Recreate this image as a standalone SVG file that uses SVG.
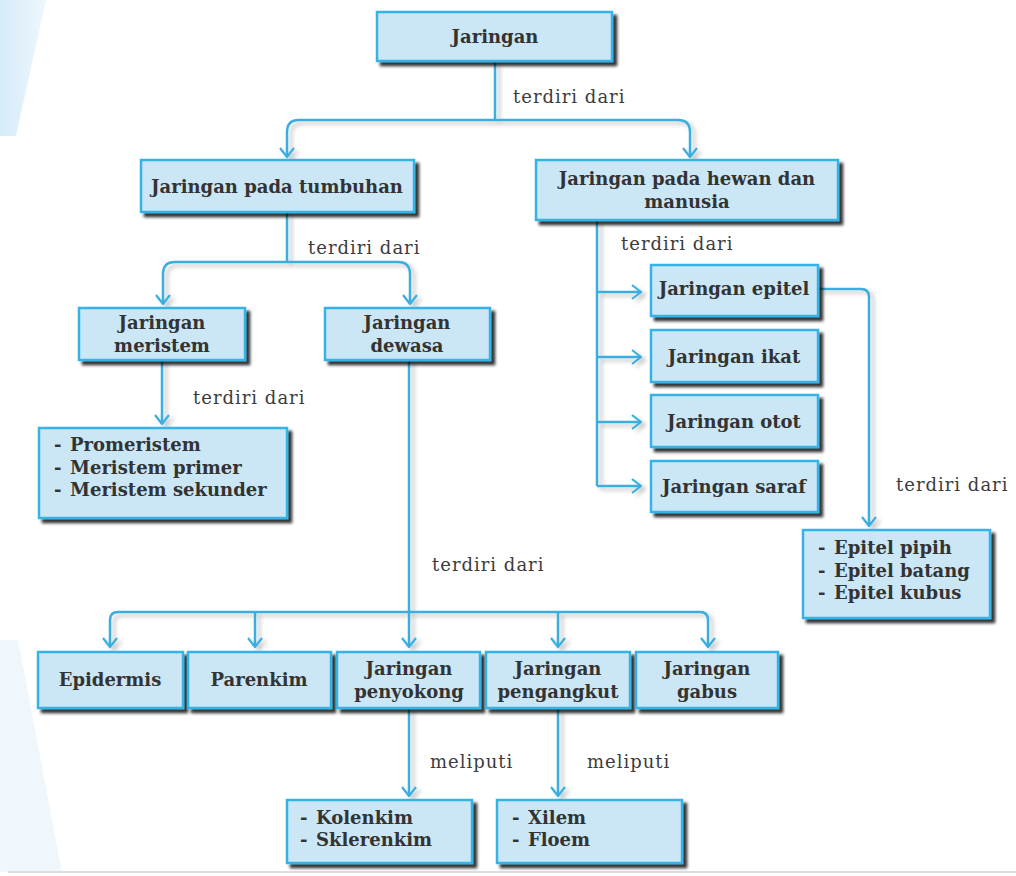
<svg xmlns="http://www.w3.org/2000/svg" width="1016" height="876" viewBox="0 0 1016 876">
<defs>
<linearGradient id="stripe" x1="0" y1="0" x2="1" y2="0">
<stop offset="0" stop-color="#d6ebf8"/>
<stop offset="1" stop-color="#eef7fd"/>
</linearGradient>
<filter id="sh" x="-10%" y="-10%" width="130%" height="140%">
<feGaussianBlur in="SourceAlpha" stdDeviation="1.5"/>
<feOffset dx="4" dy="4" result="b"/>
<feComponentTransfer><feFuncA type="linear" slope="0.8"/></feComponentTransfer>
<feMerge><feMergeNode/><feMergeNode in="SourceGraphic"/></feMerge>
</filter>
<filter id="lsh" x="-20%" y="-20%" width="140%" height="140%">
<feGaussianBlur in="SourceAlpha" stdDeviation="2"/>
<feOffset dx="4" dy="3"/>
<feComponentTransfer><feFuncA type="linear" slope="0.25"/></feComponentTransfer>
<feMerge><feMergeNode/><feMergeNode in="SourceGraphic"/></feMerge>
</filter>
<marker id="ah" viewBox="0 0 12 16" refX="11" refY="8" markerWidth="12" markerHeight="16" markerUnits="userSpaceOnUse" orient="auto">
<path d="M2,1 L11,8 L2,15" fill="none" stroke="#3aaee0" stroke-width="2.2"/>
</marker>
</defs>
<style>
.box{fill:#cbe7f6;stroke:#36b2e6;stroke-width:2.5;filter:url(#sh)}
.t{font-family:"DejaVu Serif","Liberation Serif",serif;font-weight:bold;font-size:18px;fill:#333333}
.c{text-anchor:middle}
.lbl{font-family:"DejaVu Serif","Liberation Serif",serif;font-size:18px;letter-spacing:1px;fill:#3c3c3c}
.cn{fill:none;stroke:#3aaee0;stroke-width:2.5}
</style>
<rect width="1016" height="876" fill="#ffffff"/>
<polygon points="0,0 46,0 16,136 0,136" fill="url(#stripe)"/>
<polygon points="0,640 18,640 62,872 0,872" fill="#f0f7fc"/>
<line x1="8" y1="872" x2="1016" y2="872" stroke="#dddddd" stroke-width="2"/>

<g id="connectors" filter="url(#lsh)">
<path class="cn" d="M495,62 V120"/>
<path class="cn" d="M495,120 H299 Q287,120 287,132 V157" marker-end="url(#ah)"/>
<path class="cn" d="M495,120 H678 Q690,120 690,132 V157" marker-end="url(#ah)"/>
<path class="cn" d="M287,213 V262"/>
<path class="cn" d="M287,262 H175 Q163,262 163,274 V304" marker-end="url(#ah)"/>
<path class="cn" d="M287,262 H398 Q410,262 410,274 V304" marker-end="url(#ah)"/>
<path class="cn" d="M162,360 V424" marker-end="url(#ah)"/>
<path class="cn" d="M409,360 V647" marker-end="url(#ah)"/>
<path class="cn" d="M409,612 H118 Q110,612 110,620 V647" marker-end="url(#ah)"/>
<path class="cn" d="M409,612 H700 Q708,612 708,620 V647" marker-end="url(#ah)"/>
<path class="cn" d="M255,612 V647" marker-end="url(#ah)"/>
<path class="cn" d="M558,612 V647" marker-end="url(#ah)"/>
<path class="cn" d="M409,708 V796" marker-end="url(#ah)"/>
<path class="cn" d="M558,708 V796" marker-end="url(#ah)"/>
<path class="cn" d="M597,220 V486"/>
<path class="cn" d="M597,292 H641" marker-end="url(#ah)"/>
<path class="cn" d="M597,357 H641" marker-end="url(#ah)"/>
<path class="cn" d="M597,422 H641" marker-end="url(#ah)"/>
<path class="cn" d="M597,486 H641" marker-end="url(#ah)"/>
<path class="cn" d="M818,289 H861 Q869,289 869,297 V526" marker-end="url(#ah)"/>
</g>

<g id="labels">
<text class="lbl" x="513" y="103">terdiri dari</text>
<text class="lbl" x="308" y="254">terdiri dari</text>
<text class="lbl" x="621" y="250">terdiri dari</text>
<text class="lbl" x="193" y="404">terdiri dari</text>
<text class="lbl" x="432" y="571">terdiri dari</text>
<text class="lbl" x="896" y="491">terdiri dari</text>
<text class="lbl" x="430" y="768">meliputi</text>
<text class="lbl" x="587" y="768">meliputi</text>
</g>

<g id="n-jaringan"><rect class="box" x="377" y="12" width="235" height="49"/><text class="t c" x="495" y="43">Jaringan</text></g>
<g id="n-tumbuhan"><rect class="box" x="141" y="160" width="273" height="52"/><text class="t c" x="277" y="193">Jaringan pada tumbuhan</text></g>
<g id="n-hewan"><rect class="box" x="536" y="160" width="302" height="60"/><text class="t c" x="687" y="185">Jaringan pada hewan dan</text><text class="t c" x="687" y="208">manusia</text></g>
<g id="n-meristem"><rect class="box" x="79" y="308" width="166" height="52"/><text class="t c" x="162" y="329">Jaringan</text><text class="t c" x="162" y="352">meristem</text></g>
<g id="n-dewasa"><rect class="box" x="325" y="308" width="165" height="52"/><text class="t c" x="407" y="329">Jaringan</text><text class="t c" x="407" y="352">dewasa</text></g>
<g id="n-meristem-list"><rect class="box" x="39" y="428" width="248" height="90"/>
<text class="t" y="451"><tspan x="54">-</tspan><tspan x="70">Promeristem</tspan></text>
<text class="t" y="474"><tspan x="54">-</tspan><tspan x="70">Meristem primer</tspan></text>
<text class="t" y="496"><tspan x="54">-</tspan><tspan x="70">Meristem sekunder</tspan></text></g>
<g id="n-epitel"><rect class="box" x="651" y="265" width="167" height="51"/><text class="t c" x="734" y="295">Jaringan epitel</text></g>
<g id="n-ikat"><rect class="box" x="651" y="330" width="167" height="52"/><text class="t c" x="734" y="363">Jaringan ikat</text></g>
<g id="n-otot"><rect class="box" x="651" y="395" width="167" height="52"/><text class="t c" x="734" y="428">Jaringan otot</text></g>
<g id="n-saraf"><rect class="box" x="651" y="461" width="167" height="51"/><text class="t c" x="734" y="493">Jaringan saraf</text></g>
<g id="n-epitel-list"><rect class="box" x="803" y="530" width="187" height="88"/>
<text class="t" y="554"><tspan x="818">-</tspan><tspan x="834">Epitel pipih</tspan></text>
<text class="t" y="577"><tspan x="818">-</tspan><tspan x="834">Epitel batang</tspan></text>
<text class="t" y="599"><tspan x="818">-</tspan><tspan x="834">Epitel kubus</tspan></text></g>
<g id="n-epidermis"><rect class="box" x="38" y="652" width="145" height="56"/><text class="t c" x="110" y="686">Epidermis</text></g>
<g id="n-parenkim"><rect class="box" x="188" y="652" width="143" height="56"/><text class="t c" x="259" y="686">Parenkim</text></g>
<g id="n-penyokong"><rect class="box" x="337" y="652" width="143" height="56"/><text class="t c" x="409" y="675">Jaringan</text><text class="t c" x="409" y="698">penyokong</text></g>
<g id="n-pengangkut"><rect class="box" x="486" y="652" width="144" height="56"/><text class="t c" x="558" y="675">Jaringan</text><text class="t c" x="558" y="698">pengangkut</text></g>
<g id="n-gabus"><rect class="box" x="636" y="652" width="142" height="56"/><text class="t c" x="707" y="675">Jaringan</text><text class="t c" x="707" y="698">gabus</text></g>
<g id="n-penyokong-list"><rect class="box" x="287" y="800" width="185" height="63"/>
<text class="t" y="824"><tspan x="300">-</tspan><tspan x="316">Kolenkim</tspan></text>
<text class="t" y="846"><tspan x="300">-</tspan><tspan x="316">Sklerenkim</tspan></text></g>
<g id="n-pengangkut-list"><rect class="box" x="497" y="800" width="185" height="63"/>
<text class="t" y="824"><tspan x="512">-</tspan><tspan x="528">Xilem</tspan></text>
<text class="t" y="846"><tspan x="512">-</tspan><tspan x="528">Floem</tspan></text></g>
</svg>
